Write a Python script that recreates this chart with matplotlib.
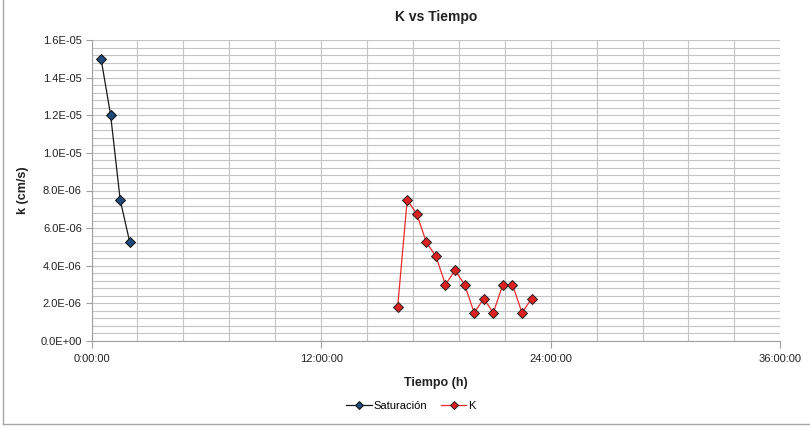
import matplotlib
matplotlib.use('Agg')
import matplotlib.pyplot as plt
from matplotlib.lines import Line2D
from matplotlib.ticker import FuncFormatter, MultipleLocator

plt.rcParams['font.family'] = ['Liberation Sans', 'DejaVu Sans']

# data (hours, cm/s)
sat_t = [0.5, 1.0, 1.5, 2.0]
sat_k = [1.5e-05, 1.2e-05, 7.5e-06, 5.25e-06]

k_t = [16.0, 16.5, 17.0, 17.5, 18.0, 18.5, 19.0, 19.5,
       20.0, 20.5, 21.0, 21.5, 22.0, 22.5, 23.0]
k_k = [1.8e-06, 7.5e-06, 6.75e-06, 5.25e-06, 4.5e-06, 3.0e-06, 3.75e-06, 3.0e-06,
       1.5e-06, 2.25e-06, 1.5e-06, 3.0e-06, 3.0e-06, 1.5e-06, 2.25e-06]

x_major = [0, 12, 24, 36]

def hms(h, pos=None):
    total = int(round(h * 3600))
    return f'{total // 3600}:{(total % 3600) // 60:02d}:{total % 60:02d}'

def sci(v, pos=None):
    s = f'{v:.1E}'
    mant, exp = s.split('E')
    return f'{mant}E{exp[0]}{int(exp[1:]):02d}'

fig = plt.figure(figsize=(8.1, 4.28), dpi=100)
ax = fig.add_axes([91.5 / 810, 1 - 341 / 428, (780.3 - 91.5) / 810, 301 / 428])

grid_c = '#c4c4c4'
ax.set_xlim(0, 36)
ax.set_ylim(0, 1.6e-05)
ax.set_xticks(x_major)
ax.xaxis.set_major_formatter(FuncFormatter(hms))
ax.xaxis.set_minor_locator(MultipleLocator(2.4))
ax.yaxis.set_major_locator(MultipleLocator(2e-06))
ax.yaxis.set_minor_locator(MultipleLocator(4e-07))
ax.yaxis.set_major_formatter(FuncFormatter(sci))
ax.grid(True, which='both', color=grid_c, linewidth=0.8)
ax.set_axisbelow(True)

for side in ('top', 'right'):
    ax.spines[side].set_visible(False)
for side in ('left', 'bottom'):
    ax.spines[side].set_color('#a0a0a0')
    ax.spines[side].set_linewidth(0.8)
ax.tick_params(which='major', length=4, width=0.8, color='#a0a0a0',
               labelsize=8, labelcolor='#222222', pad=3)
ax.tick_params(which='minor', length=0)
ax.tick_params(axis='x', which='major', length=5, pad=4)

ax.plot(sat_t, sat_k, color='#1a1a1a', linewidth=0.9, marker='D', markersize=4.6,
        markerfacecolor='#1f4a7a', markeredgecolor='#111111', markeredgewidth=0.7,
        label='Saturación', clip_on=False)
ax.plot(k_t, k_k, color='#ee2a2a', linewidth=0.9, marker='D', markersize=4.6,
        markerfacecolor='#dd2020', markeredgecolor='#222222', markeredgewidth=0.7,
        label='K', clip_on=False)

ax.set_title('K vs Tiempo', fontsize=10, fontweight='bold', color='#222222', pad=14)
ax.set_xlabel('Tiempo (h)', fontsize=9, fontweight='bold', color='#222222', labelpad=10)
ax.set_ylabel('k (cm/s)', fontsize=9, fontweight='bold', color='#222222', labelpad=8)

handles, labels = ax.get_legend_handles_labels()
fig.legend(handles, labels, loc='center', bbox_to_anchor=(411 / 810, 1 - 406 / 428), ncol=2,
           frameon=False, fontsize=8, handlelength=2.3, columnspacing=1.2,
           handletextpad=0.2, markerscale=0.8)

# chart area border (left and bottom visible in the reference)
border = dict(color='#a8a8a8', linewidth=1.0, transform=fig.transFigure)
fig.lines.append(Line2D([3.5 / 810, 3.5 / 810], [4 / 428, 1.0], **border))
fig.lines.append(Line2D([3.5 / 810, 1.0], [4 / 428, 4 / 428], **border))

fig.savefig('out.png', dpi=100)
